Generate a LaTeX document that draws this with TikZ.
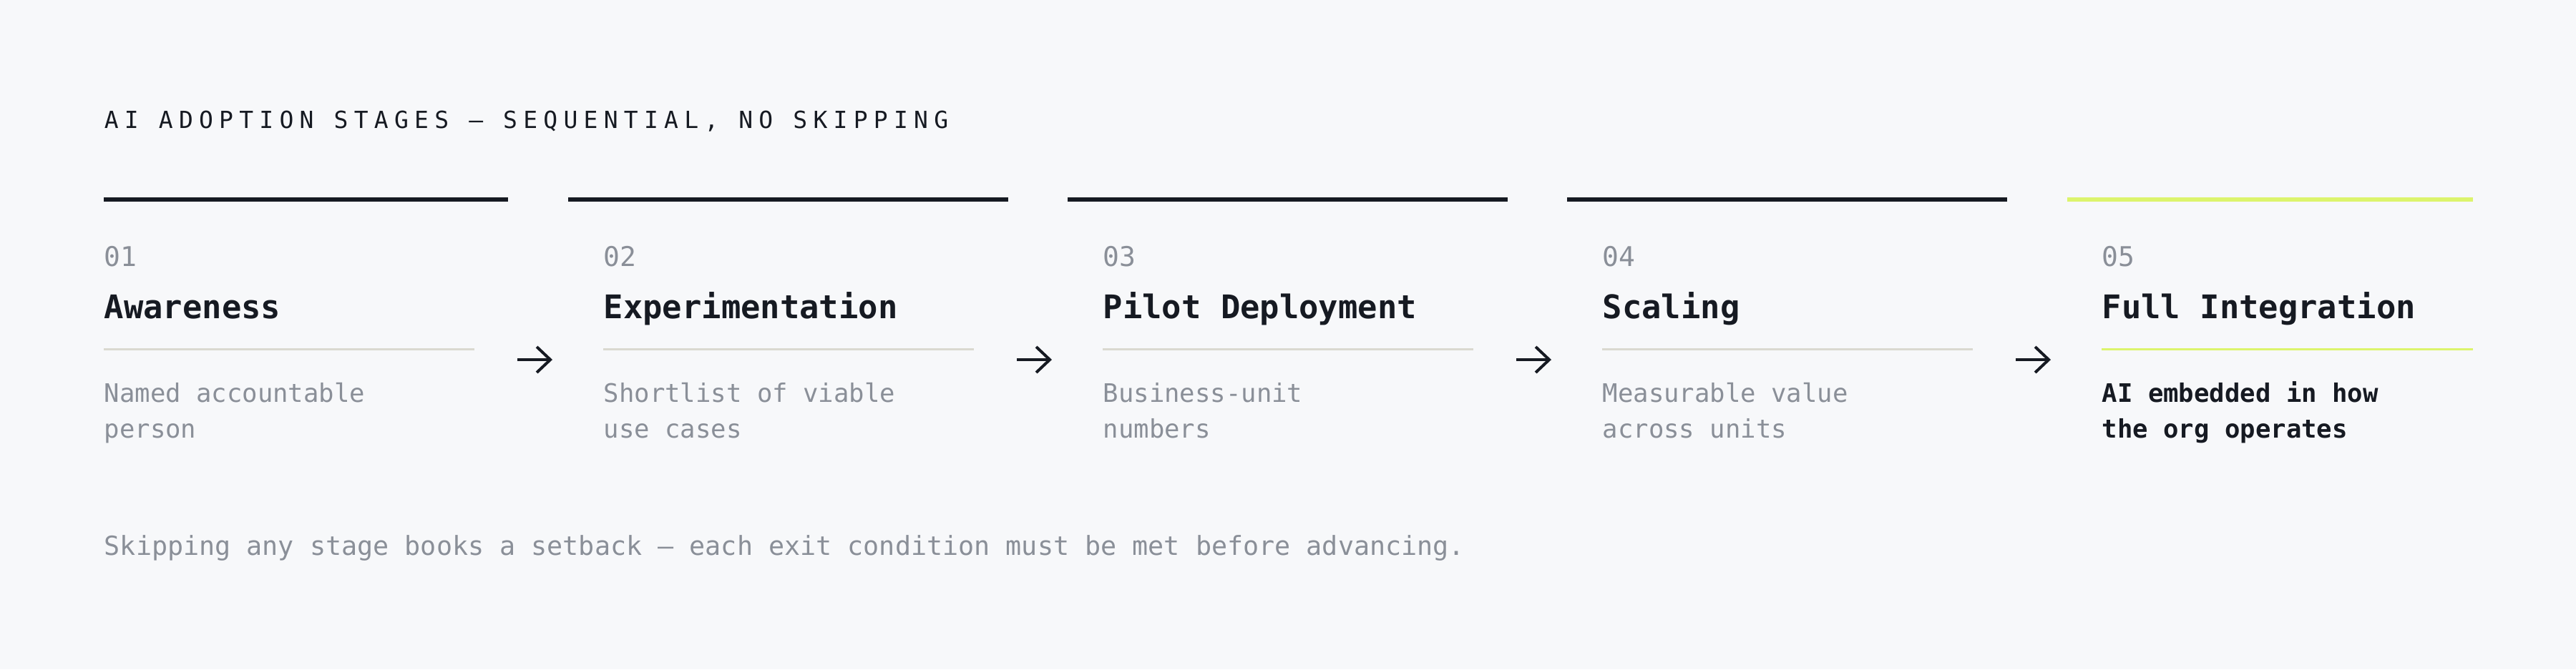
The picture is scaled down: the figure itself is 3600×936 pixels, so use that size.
\documentclass[tikz,border=0pt]{standalone}
\usepackage{fontspec}
\setmainfont{DejaVu Sans Mono}
\newfontfamily\capsfont{DejaVu Sans Mono}[LetterSpace=25]
\usetikzlibrary{positioning,arrows.meta}

\definecolor{pagebg}{HTML}{F7F8FA}
\definecolor{ink}{HTML}{161A22}
\definecolor{muted}{HTML}{8A8F98}
\definecolor{rulegray}{HTML}{DAD9D0}
\definecolor{lime}{HTML}{DCF46C}

\tikzset{
  caption/.style={anchor=base west, inner sep=0pt, text=ink, font=\capsfont\fontsize{8.25pt}{10pt}\selectfont},
  stagenum/.style={anchor=base west, inner sep=0pt, text=muted, font=\fontsize{9.5pt}{11pt}\selectfont},
  stagename/.style={anchor=base west, inner sep=0pt, text=ink, font=\bfseries\fontsize{11.37pt}{14pt}\selectfont},
  stagedesc/.style={anchor=base west, inner sep=0pt, align=left, text=muted, font=\fontsize{8.9pt}{12.5pt}\selectfont},
  footnote/.style={anchor=base west, inner sep=0pt, text=muted, font=\fontsize{9.18pt}{11pt}\selectfont},
  topbar/.style={line width=1.5pt, ink},
  subrule/.style={line width=0.75pt, rulegray},
  stagearrow/.style={line width=1pt, ink, -{Straight Barb[length=4.75pt,width=9pt]}},
}

\begin{document}
\begin{tikzpicture}[x=0.25pt,y=-0.25pt]
    % Fundo
    \fill[pagebg] (0,0) rectangle (3600,936);

    % Titulo
    \node[caption] (heading) at (145,179) {AI ADOPTION STAGES — SEQUENTIAL, NO SKIPPING};

    % Etapa 1
    \draw[topbar] (145,279) -- (710,279);
    \node[stagenum] (num1) at (145,372) {01};
    \node[stagename] (name1) at (145,445) {Awareness};
    \draw[subrule] (145,488.5) -- (663,488.5);
    \node[stagedesc] (desc1) at (145,612) {Named accountable\\person};

    % Etapa 2
    \draw[topbar] (794,279) -- (1409,279);
    \node[stagenum] (num2) at (843,372) {02};
    \node[stagename] (name2) at (843,445) {Experimentation};
    \draw[subrule] (843,488.5) -- (1361,488.5);
    \node[stagedesc] (desc2) at (843,612) {Shortlist of viable\\use cases};

    % Etapa 3
    \draw[topbar] (1492,279) -- (2107,279);
    \node[stagenum] (num3) at (1541,372) {03};
    \node[stagename] (name3) at (1541,445) {Pilot Deployment};
    \draw[subrule] (1541,488.5) -- (2059,488.5);
    \node[stagedesc] (desc3) at (1541,612) {Business-unit\\numbers};

    % Etapa 4
    \draw[topbar] (2190,279) -- (2805,279);
    \node[stagenum] (num4) at (2239,372) {04};
    \node[stagename] (name4) at (2239,445) {Scaling};
    \draw[subrule] (2239,488.5) -- (2757,488.5);
    \node[stagedesc] (desc4) at (2239,612) {Measurable value\\across units};

    % Etapa 5
    \draw[topbar, lime] (2889,279) -- (3456,279);
    \node[stagenum] (num5) at (2937,372) {05};
    \node[stagename] (name5) at (2937,445) {Full Integration};
    \draw[subrule, lime] (2937,488.5) -- (3456,488.5);
    \node[stagedesc, text=ink, font=\bfseries\fontsize{8.9pt}{12.5pt}\selectfont] (desc5) at (2937,612) {AI embedded in how\\the org operates};

    % Setas
    \coordinate (arr1s) at (723,503);
    \coordinate (arr1e) at (772,503);
    \coordinate (arr2s) at (1421,503);
    \coordinate (arr2e) at (1470,503);
    \coordinate (arr3s) at (2119,503);
    \coordinate (arr3e) at (2168,503);
    \coordinate (arr4s) at (2817,503);
    \coordinate (arr4e) at (2866,503);
    \draw[stagearrow] (arr1s) -- (arr1e);
    \draw[stagearrow] (arr2s) -- (arr2e);
    \draw[stagearrow] (arr3s) -- (arr3e);
    \draw[stagearrow] (arr4s) -- (arr4e);

    % Nota
    \node[footnote] (note) at (145,776) {Skipping any stage books a setback — each exit condition must be met before advancing.};
\end{tikzpicture}
\end{document}
